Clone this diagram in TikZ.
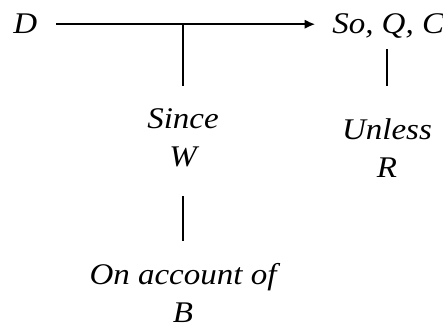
\documentclass[tikz,border=0pt]{standalone}
\usepackage{fontspec}
\setmainfont{Liberation Serif}[ItalicFeatures={FakeStretch=1.1}]
\usepackage{tikz}
\usetikzlibrary{arrows,arrows.meta,positioning,calc}

\tikzset{
    part/.style={align=center, inner sep=0pt, font=\fontsize{22.5}{28.5}\selectfont\itshape},
    link/.style={line width=1.5pt}
}

\begin{document}
\frenchspacing
\begin{tikzpicture}[x=0.75pt, y=0.75pt]
            \useasboundingbox (0,0) rectangle (443,-327);
            \node[part, anchor=base west] (data) at (13,-34) {D};
            \node[part, anchor=base west] (claim) at (332,-34) {So, Q, C};
            \node[part] (warrant) at (183,-138) {Since\\W};
            \node[part] (rebuttal) at (387,-148) {Unless\\R};
            \node[part] (backing) at (183,-293) {On account of\\B};
            \coordinate (fork) at (183,-23.5);
            \draw[link, -{Latex[length=8pt,width=7pt]}, shorten <=14pt, shorten >=12.5pt] (data.east) -- (data.east -| claim.west);
            \draw[link, shorten >=17pt] (fork) -- (warrant.north);
            \draw[link, shorten <=7.5pt, shorten >=24pt] (claim.south -| rebuttal) -- (rebuttal.north);
            \draw[link, shorten <=21.5pt, shorten >=16.5pt] (warrant.south) -- (backing.north);
        \end{tikzpicture}
\end{document}
